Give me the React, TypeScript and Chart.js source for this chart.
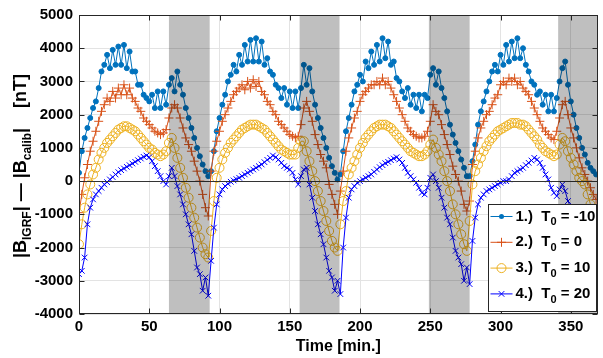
import React, { useEffect, useRef } from 'react';
import { Chart, registerables } from 'chart.js';

Chart.register(...registerables);

const FONT = "'Liberation Sans', Arial, Helvetica, sans-serif";

// sampling times [min.] (every 2 minutes)
const TIME: number[] = Array.from({ length: 185 }, (_, i) => i * 2);

const X_TICKS = [0, 50, 100, 150, 200, 250, 300, 350];
const Y_TICKS = [-4000, -3000, -2000, -1000, 0, 1000, 2000, 3000, 4000, 5000];
const X_MIN = 0;
const X_MAX = 369;
const Y_MIN = -4000;
const Y_MAX = 5000;

// eclipse (shaded) intervals [min.]
const ECLIPSE_START = [64, 157, 249, 341];
const ECLIPSE_END = [93, 185.4, 278, 370];

const SERIES_NUM = ['1.)', '2.)', '3.)', '4.)'];
const SERIES_T0 = ['-10', '0', '10', '20'];

// T0 = -10
const S1 = [
  250, 900, 1300, 1600, 1900, 2200, 2400, 2800, 3300, 3500,
  3800, 3400, 3950, 3500, 4050, 3500, 4100, 3400, 3900, 3300,
  3300, 2900, 2900, 2600, 2500, 2400, 2600, 2200, 2700, 2200,
  2700, 2300, 2900, 3100, 2700, 3300, 2900, 2600, 2200, 1900,
  1600, 1300, 1000, 750, 500, 300, 150, 300, 900, 1500,
  1900, 2300, 2600, 3000, 3200, 3500, 3300, 3800, 3500, 4100,
  3600, 4250, 3600, 4300, 3600, 4200, 3500, 3700, 3300, 3200,
  2900, 2800, 2500, 2800, 2300, 2700, 2200, 2700, 2200, 2800,
  3500, 2900, 3400, 2700, 2300, 1900, 1600, 1300, 1000, 700,
  450, 250, 50, 200, 900, 1500, 1900, 2300, 2700, 2900,
  3200, 3000, 3600, 3400, 3900, 3500, 4100, 3600, 4300, 3700,
  4200, 3500, 3600, 3100, 3000, 2700, 2500, 2800, 2300, 2600,
  2200, 2600, 2100, 2600, 2500, 3200, 3400, 2900, 3300, 2800,
  2500, 2100, 1700, 1400, 1150, 900, 650, 400, 150, 150,
  600, 1100, 1700, 2100, 2400, 2700, 3000, 3300, 3500, 3300,
  3800, 3500, 4100, 3600, 4200, 3700, 4300, 3700, 4000, 3500,
  3300, 3000, 2900, 2600, 2700, 2300, 2600, 2100, 2600, 2100,
  2500, 3000, 3400, 3600, 2900, 2400, 2000, 1600, 1300, 1000,
  800, 550, 400, 300, 200,
];

// T0 = 0
const S2 = [
  -950, -400, 100, 500, 900, 1200, 1500, 1800, 2100, 2300,
  2500, 2400, 2700, 2500, 2800, 2600, 2900, 2600, 2800, 2500,
  2400, 2200, 2100, 1900, 1800, 1700, 1600, 1500, 1450, 1400,
  1450, 1550, 1900, 2200, 2300, 2200, 1900, 1600, 1300, 1100,
  900, 600, 300, 0, -400, -800, -1050, 300, 900, 1200,
  1500, 1800, 2000, 2200, 2400, 2600, 2700, 2800, 2900, 2750,
  3000, 2800, 3050, 2850, 3000, 2700, 2600, 2400, 2300, 2100,
  2000, 1800, 1700, 1600, 1500, 1400, 1350, 1300, 1350, 1700,
  2200, 2400, 2100, 1800, 1400, 1100, 800, 600, 400, -100,
  -400, -700, -1000, -300, 300, 900, 1300, 1600, 1900, 2100,
  2400, 2600, 2700, 2800, 2900, 2900, 3000, 2900, 3100, 2900,
  3000, 2800, 2600, 2400, 2200, 2000, 1800, 1600, 1500, 1400,
  1350, 1300, 1300, 1350, 1500, 1800, 2300, 2100, 2000, 1700,
  1400, 1100, 800, 450, 200, 0, -300, -700, -900, -600,
  500, 900, 1300, 1600, 1800, 2000, 2100, 2300, 2500, 2600,
  2900, 3000, 2900, 3100, 3000, 3100, 2900, 3000, 2800, 2700,
  2600, 2400, 2200, 2000, 1800, 1600, 1500, 1400, 1300, 1250,
  1500, 1900, 2300, 2400, 2000, 1600, 1300, 1000, 700, 400,
  200, 0, -200, -400, -550,
];

// T0 = 10
const S3 = [
  -1900, -1300, -800, -400, -100, 200, 400, 650, 850, 1000,
  1150, 1250, 1350, 1450, 1550, 1600, 1650, 1650, 1600, 1550,
  1500, 1400, 1300, 1200, 1100, 1000, 950, 850, 800, 750,
  800, 900, 1150, 1300, 1000, 700, 400, 100, -200, -500,
  -800, -1100, -1400, -1700, -2000, -2200, -2300, -1500, -600, 100,
  400, 650, 850, 1000, 1150, 1250, 1350, 1450, 1550, 1600,
  1650, 1700, 1700, 1700, 1650, 1600, 1550, 1450, 1350, 1250,
  1150, 1050, 950, 900, 850, 800, 800, 800, 1000, 1200,
  1200, 900, 600, 300, 0, -300, -600, -900, -1200, -1500,
  -1800, -2000, -2100, -1300, -600, -300, 200, 400, 600, 800,
  1000, 1150, 1300, 1400, 1500, 1600, 1650, 1700, 1700, 1700,
  1650, 1600, 1500, 1400, 1300, 1200, 1100, 1000, 900, 850,
  800, 750, 750, 800, 900, 1100, 1250, 1000, 800, 600,
  300, 0, -300, -700, -1000, -1300, -1600, -1900, -2100, -1200,
  -100, 300, 500, 700, 900, 1050, 1200, 1300, 1400, 1500,
  1550, 1600, 1650, 1700, 1750, 1750, 1750, 1700, 1700, 1650,
  1550, 1450, 1350, 1250, 1100, 1000, 900, 850, 800, 750,
  800, 1100, 1300, 1200, 900, 700, 500, 300, 100, 0,
  -100, -400, -700, -1000, -1300,
];

// T0 = 20
const S4 = [
  -2800, -2700, -2300, -1300, -800, -550, -400, -300, -200, -100,
  -30, 50, 120, 200, 270, 330, 380, 430, 480, 530,
  580, 630, 680, 730, 770, 720, 600, 450, 300, 150,
  0, -100, 150, 400, 150, -150, -400, -700, -1000, -1300,
  -1600, -2100, -2600, -2800, -3300, -2900, -3450, -2400, -1400, -700,
  -400, -250, -150, -80, -20, 20, 60, 100, 150, 200,
  250, 300, 350, 400, 450, 500, 570, 640, 700, 770,
  720, 650, 550, 450, 400, 350, 250, 50, -100, 150,
  350, 400, -100, -500, -900, -1300, -1600, -1900, -2300, -2700,
  -2900, -3300, -3000, -3400, -2000, -1100, -500, -250, -150, -50,
  0, 50, 100, 150, 200, 280, 350, 420, 480, 540,
  580, 630, 680, 720, 650, 550, 400, 250, 150, 50,
  -50, -200, -350, -400, -200, 100, 200, 0, -200, -500,
  -800, -1100, -1300, -1700, -2100, -2300, -2500, -3000, -2600, -3100,
  -1800, -1100, -700, -500, -400, -300, -250, -200, -150, -100,
  -50, 0, 0, 50, 150, 250, 300, 350, 400, 480,
  550, 620, 700, 650, 550, 400, 200, 50, -200, -350,
  -450, -250, -100, -300, -600, -800, -1000, -1200, -1400, -1600,
  -1800, -1900, -2000, -2100, -2200,
];

const SERIES = [S1, S2, S3, S4];
const COLORS = ['#0072BD', '#D95319', '#EDB120', '#0000FF'];
const MARKERS = ['dot', 'cross', 'circle', 'crossRot'];
const MARKER_R = [2.5, 4.5, 4.5, 4];

type Part = { t: string; sub?: boolean };

function drawRich(ctx: CanvasRenderingContext2D, parts: Part[], x: number, y: number, size: number, subSize: number, align: 'center' | 'left') {
  const mainFont = `bold ${size}px ${FONT}`;
  const subFont = `bold ${subSize}px ${FONT}`;
  let total = 0;
  const widths = parts.map((p) => {
    ctx.font = p.sub ? subFont : mainFont;
    const w = ctx.measureText(p.t).width;
    total += w;
    return w;
  });
  let cx = align === 'center' ? x - total / 2 : x;
  ctx.textAlign = 'left';
  ctx.textBaseline = 'middle';
  parts.forEach((p, i) => {
    ctx.font = p.sub ? subFont : mainFont;
    ctx.fillText(p.t, cx, y + (p.sub ? size * 0.38 : 0));
    cx += widths[i];
  });
}

function drawMarker(ctx: CanvasRenderingContext2D, style: string, x: number, y: number, r: number, color: string) {
  ctx.save();
  ctx.strokeStyle = color;
  ctx.fillStyle = color;
  ctx.lineWidth = 1;
  ctx.beginPath();
  if (style === 'dot') {
    ctx.arc(x, y, r, 0, Math.PI * 2);
    ctx.fill();
  } else if (style === 'circle') {
    ctx.arc(x, y, r, 0, Math.PI * 2);
    ctx.stroke();
  } else if (style === 'cross') {
    ctx.moveTo(x - r, y); ctx.lineTo(x + r, y);
    ctx.moveTo(x, y - r); ctx.lineTo(x, y + r);
    ctx.stroke();
  } else {
    const d = r * 0.707;
    ctx.moveTo(x - d, y - d); ctx.lineTo(x + d, y + d);
    ctx.moveTo(x - d, y + d); ctx.lineTo(x + d, y - d);
    ctx.stroke();
  }
  ctx.restore();
}

const overlayPlugin = {
  id: 'overlayPlugin',
  afterDatasetsDraw(chart: any) {
    const { ctx, chartArea: a, scales } = chart;
    const xs = scales.x;
    const ys = scales.y;
    ctx.save();
    ctx.beginPath();
    ctx.rect(a.left, a.top, a.right - a.left, a.bottom - a.top);
    ctx.clip();
    // zero line
    const y0 = Math.round(ys.getPixelForValue(0)) + 0.5;
    ctx.strokeStyle = '#333333';
    ctx.lineWidth = 1.2;
    ctx.beginPath();
    ctx.moveTo(a.left, y0);
    ctx.lineTo(a.right, y0);
    ctx.stroke();
    // eclipse shading
    ctx.fillStyle = 'rgba(0,0,0,0.25)';
    ECLIPSE_START.forEach((s, i) => {
      const x1 = xs.getPixelForValue(s);
      const x2 = xs.getPixelForValue(ECLIPSE_END[i]);
      ctx.fillRect(x1, a.top, x2 - x1, a.bottom - a.top);
    });
    ctx.restore();
  },
  afterDraw(chart: any) {
    const { ctx, chartArea: a, scales } = chart;
    const xs = scales.x;
    const ys = scales.y;
    ctx.save();
    // axes box
    const L = Math.round(a.left) + 0.5;
    const R = Math.round(a.right) - 0.5;
    const T = Math.round(a.top) + 0.5;
    const B = Math.round(a.bottom) - 0.5;
    ctx.strokeStyle = '#262626';
    ctx.lineWidth = 1;
    ctx.strokeRect(L, T, R - L, B - T);
    // inward ticks
    const tl = 5;
    ctx.beginPath();
    X_TICKS.forEach((v) => {
      const px = Math.round(xs.getPixelForValue(v)) + 0.5;
      ctx.moveTo(px, B); ctx.lineTo(px, B - tl);
      ctx.moveTo(px, T); ctx.lineTo(px, T + tl);
    });
    Y_TICKS.forEach((v) => {
      const py = Math.round(ys.getPixelForValue(v)) + 0.5;
      ctx.moveTo(L, py); ctx.lineTo(L + tl, py);
      ctx.moveTo(R, py); ctx.lineTo(R - tl, py);
    });
    ctx.stroke();

    // x title
    ctx.fillStyle = '#000000';
    drawRich(ctx, [{ t: 'Time [min.]' }], (a.left + a.right) / 2, 347, 16, 11, 'center');

    // y title (rotated)
    ctx.save();
    ctx.translate(21, 166);
    ctx.rotate(-Math.PI / 2);
    drawRich(ctx, [
      { t: '|B' }, { t: 'IGRF', sub: true }, { t: '| \u2014 |B' }, { t: 'calib', sub: true }, { t: '|    [nT]' },
    ], 0, 0, 18, 12, 'center');
    ctx.restore();

    // legend
    const lw = 108;
    const lh = 107;
    const lx = Math.round(a.right) - lw - 1.5;
    const ly = Math.round(a.bottom) - lh - 2.5;
    ctx.fillStyle = '#ffffff';
    ctx.fillRect(lx, ly, lw, lh);
    ctx.strokeStyle = '#262626';
    ctx.lineWidth = 1;
    ctx.strokeRect(lx, ly, lw, lh);
    SERIES_NUM.forEach((num, i) => {
      const cy = ly + 12 + i * 25.8;
      ctx.strokeStyle = COLORS[i];
      ctx.lineWidth = 1;
      ctx.beginPath();
      ctx.moveTo(lx + 2, cy);
      ctx.lineTo(lx + 24, cy);
      ctx.stroke();
      drawMarker(ctx, MARKERS[i], lx + 13, cy, MARKER_R[i], COLORS[i]);
      ctx.fillStyle = '#000000';
      drawRich(ctx, [{ t: num + '  T' }, { t: '0', sub: true }, { t: ' = ' + SERIES_T0[i] }], lx + 27, cy, 15, 11, 'left');
    });
    ctx.restore();
  },
};

export default function App() {
  const canvasRef = useRef<HTMLCanvasElement | null>(null);

  useEffect(() => {
    document.body.style.margin = '0';
    const canvas = canvasRef.current;
    if (!canvas) return;

    const datasets = SERIES.map((vals, i) => {
      const style = MARKERS[i];
      return {
        label: `${SERIES_NUM[i]} T0 = ${SERIES_T0[i]}`,
        data: vals.map((v, j) => ({ x: TIME[j], y: v })),
        borderColor: COLORS[i],
        backgroundColor: COLORS[i],
        borderWidth: 1,
        pointStyle: style === 'dot' ? 'circle' : style,
        pointRadius: MARKER_R[i],
        pointBorderWidth: 1,
        pointBorderColor: COLORS[i],
        pointBackgroundColor: style === 'circle' ? 'rgba(0,0,0,0)' : COLORS[i],
        tension: 0,
        fill: false,
        order: SERIES.length - i,
      };
    });

    const tickFont = { family: FONT, size: 15, weight: 'bold' as const };

    const chart = new Chart(canvas, {
      type: 'line',
      data: { datasets },
      options: {
        responsive: false,
        animation: false,
        events: [],
        layout: { padding: { top: 9, right: 5, left: 0, bottom: 0 } },
        plugins: { legend: { display: false }, tooltip: { enabled: false } },
        scales: {
          x: {
            type: 'linear',
            min: X_MIN,
            max: X_MAX,
            afterBuildTicks: (s: any) => { s.ticks = X_TICKS.map((v) => ({ value: v })); },
            afterFit: (s: any) => { s.height = 44; },
            ticks: { font: tickFont, color: '#000000', padding: 4, maxRotation: 0, autoSkip: false, callback: (v: any) => String(v) },
            grid: { color: '#e3e3e3', lineWidth: 1, drawTicks: false },
            border: { display: false },
          },
          y: {
            type: 'linear',
            min: Y_MIN,
            max: Y_MAX,
            afterBuildTicks: (s: any) => { s.ticks = Y_TICKS.map((v) => ({ value: v })); },
            afterFit: (s: any) => { s.width = 79; },
            ticks: { font: tickFont, color: '#000000', padding: 6, callback: (v: any) => String(v) },
            grid: { color: '#e3e3e3', lineWidth: 1, drawTicks: false },
            border: { display: false },
          },
        },
      },
      plugins: [overlayPlugin],
    });

    return () => chart.destroy();
  }, []);

  return (
    <div style={{ position: 'absolute', left: 0, top: 0, width: 603, height: 358, background: '#ffffff' }}>
      <canvas ref={canvasRef} width={603} height={358} />
    </div>
  );
}
